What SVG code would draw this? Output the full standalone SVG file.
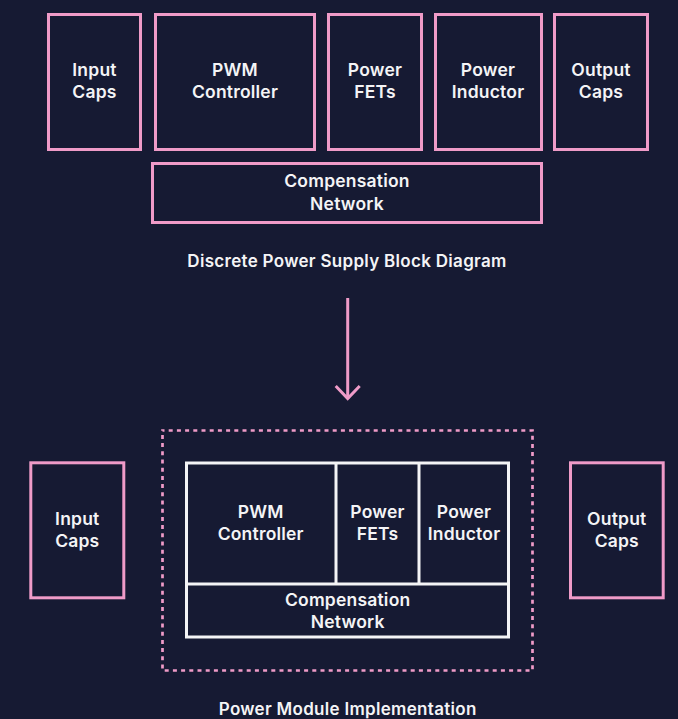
<svg xmlns="http://www.w3.org/2000/svg" width="678" height="719" viewBox="0 0 678 719">
  <style>
    .bg { fill: #161a33; }
    .box { fill: #161a33; stroke: #ef9bc8; stroke-width: 3; }
    .mod { fill: none; stroke: #f4f4f6; stroke-width: 3; }
    .div { stroke: #f4f4f6; stroke-width: 3; }
    .frame { fill: none; stroke: #ef9bc8; stroke-width: 2.7; stroke-dasharray: 4 4.2; stroke-dashoffset: 2; }
    .lbl { font-family: Inter, "Liberation Sans", sans-serif; font-weight: 600; font-size: 17.5px; letter-spacing: 0.2px; fill: #f4f4f6; text-anchor: middle; }
    .cap { font-family: Inter, "Liberation Sans", sans-serif; font-weight: 600; font-size: 17px; letter-spacing: 0.3px; fill: #f4f4f6; text-anchor: middle; }
    .arrow { fill: none; stroke: #ef9bc8; stroke-width: 3; }
  </style>
  <rect class="bg" x="0" y="0" width="678" height="719"/>

  <!-- Discrete power supply: individual blocks -->
  <g id="d-input-caps">
    <rect class="box" x="48.5" y="14.5" width="92" height="135"/>
    <text class="lbl" x="94.5" y="76">Input</text>
    <text class="lbl" x="94.5" y="98">Caps</text>
  </g>
  <g id="d-pwm-controller">
    <rect class="box" x="155.5" y="14.5" width="159" height="135"/>
    <text class="lbl" x="235" y="76">PWM</text>
    <text class="lbl" x="235" y="98">Controller</text>
  </g>
  <g id="d-power-fets">
    <rect class="box" x="328.5" y="14.5" width="93" height="135"/>
    <text class="lbl" x="375" y="76">Power</text>
    <text class="lbl" x="375" y="98">FETs</text>
  </g>
  <g id="d-power-inductor">
    <rect class="box" x="435.5" y="14.5" width="106" height="135"/>
    <text class="lbl" x="488" y="76">Power</text>
    <text class="lbl" x="488" y="98">Inductor</text>
  </g>
  <g id="d-output-caps">
    <rect class="box" x="554.5" y="14.5" width="93" height="135"/>
    <text class="lbl" x="601" y="76">Output</text>
    <text class="lbl" x="601" y="98">Caps</text>
  </g>
  <g id="d-compensation">
    <rect class="box" x="152.5" y="163.5" width="389" height="59"/>
    <text class="lbl" x="347" y="187">Compensation</text>
    <text class="lbl" x="347" y="209.5">Network</text>
  </g>
  <text class="cap" x="347" y="267">Discrete Power Supply Block Diagram</text>

  <!-- Transition arrow -->
  <g id="connectors">
    <path class="arrow" d="M347.7 298 V399"/>
    <path class="arrow" d="M335.7 386 L347.7 398.5 L359.7 386"/>
  </g>

  <!-- Power module implementation -->
  <g id="m-frame">
    <rect class="frame" x="162.5" y="430.5" width="370" height="240"/>
  </g>
  <g id="m-input-caps">
    <rect class="box" x="30.8" y="462.8" width="93" height="135"/>
    <text class="lbl" x="77.3" y="525">Input</text>
    <text class="lbl" x="77.3" y="547">Caps</text>
  </g>
  <g id="m-output-caps">
    <rect class="box" x="570.5" y="462.8" width="92.7" height="135"/>
    <text class="lbl" x="616.8" y="525">Output</text>
    <text class="lbl" x="616.8" y="547">Caps</text>
  </g>
  <g id="m-module">
    <rect class="mod" x="186.5" y="463" width="322" height="174"/>
    <line class="div" x1="186.5" y1="584" x2="508.5" y2="584"/>
    <line class="div" x1="336" y1="463" x2="336" y2="584"/>
    <line class="div" x1="419" y1="463" x2="419" y2="584"/>
  </g>
  <g id="m-pwm-controller">
    <text class="lbl" x="260.7" y="518">PWM</text>
    <text class="lbl" x="260.7" y="539.5">Controller</text>
  </g>
  <g id="m-power-fets">
    <text class="lbl" x="377.5" y="518">Power</text>
    <text class="lbl" x="377.5" y="539.5">FETs</text>
  </g>
  <g id="m-power-inductor">
    <text class="lbl" x="464" y="518">Power</text>
    <text class="lbl" x="464" y="539.5">Inductor</text>
  </g>
  <g id="m-compensation">
    <text class="lbl" x="347.7" y="605.5">Compensation</text>
    <text class="lbl" x="347.7" y="627.5">Network</text>
  </g>
  <text class="cap" x="347.7" y="714.5">Power Module Implementation</text>
</svg>
